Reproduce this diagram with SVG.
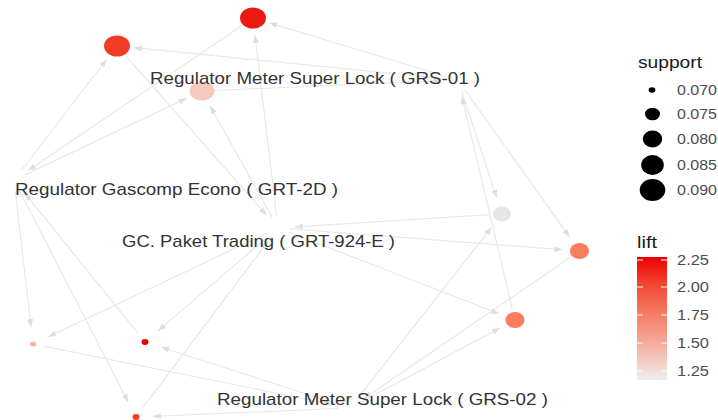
<svg xmlns="http://www.w3.org/2000/svg" width="718" height="420" viewBox="0 0 718 420">
<style>
.e{stroke:#e8e8e8;stroke-width:1.2;fill:none;marker-end:url(#ah)}
.lbl{font-family:"Liberation Sans",Arial,sans-serif;font-size:17px;fill:#333333}
.lt{font-family:"Liberation Sans",Arial,sans-serif;font-size:16px;fill:#1a1a1a}
.ll{font-family:"Liberation Sans",Arial,sans-serif;font-size:14px;fill:#4d4d4d}
.tick{stroke:#ffffff;stroke-width:1}
</style>
<defs>
<marker id="ah" markerUnits="userSpaceOnUse" markerWidth="9" markerHeight="7" refX="8" refY="3" orient="auto">
<path d="M0,0 L8,3 L0,6 z" fill="#dedede"/>
</marker>
<linearGradient id="liftg" x1="0" y1="0" x2="0" y2="1">
<stop offset="0" stop-color="#ee0000"/>
<stop offset="0.25" stop-color="#f24f37"/>
<stop offset="0.5" stop-color="#f6846d"/>
<stop offset="0.75" stop-color="#f4b6a9"/>
<stop offset="1" stop-color="#eeeeee"/>
</linearGradient>
</defs>
<rect width="718" height="420" fill="#ffffff"/>
<g id="edges">
<line class="e" x1="446.5" y1="76.5" x2="269.3" y2="22.9"/>
<line class="e" x1="276.6" y1="216.1" x2="255.0" y2="34.9"/>
<line class="e" x1="243.1" y1="24.7" x2="28.1" y2="170.5"/>
<line class="e" x1="446.1" y1="78.8" x2="133.9" y2="47.7"/>
<line class="e" x1="21.3" y1="170.5" x2="106.6" y2="59.5"/>
<line class="e" x1="125.0" y1="55.0" x2="266.7" y2="215.3"/>
<line class="e" x1="24.8" y1="174.9" x2="186.6" y2="98.3"/>
<line class="e" x1="272.2" y1="217.5" x2="210.2" y2="105.9"/>
<line class="e" x1="214.0" y1="90.5" x2="441.0" y2="80.7"/>
<line class="e" x1="461.7" y1="91.4" x2="496.7" y2="197.8"/>
<line class="e" x1="357.4" y1="398.6" x2="491.5" y2="227.4"/>
<line class="e" x1="490.0" y1="214.7" x2="295.0" y2="226.9"/>
<line class="e" x1="464.9" y1="89.8" x2="569.7" y2="237.1"/>
<line class="e" x1="290.0" y1="228.9" x2="562.5" y2="249.7"/>
<line class="e" x1="569.6" y1="257.8" x2="364.0" y2="398.4"/>
<line class="e" x1="289.2" y1="232.3" x2="499.2" y2="313.8"/>
<line class="e" x1="360.6" y1="402.4" x2="500.0" y2="328.0"/>
<line class="e" x1="512.2" y1="308.3" x2="461.9" y2="96.5"/>
<line class="e" x1="15.4" y1="191.9" x2="31.0" y2="327.1"/>
<line class="e" x1="267.2" y1="233.1" x2="48.4" y2="336.7"/>
<line class="e" x1="44.8" y1="346.4" x2="333.3" y2="404.6"/>
<line class="e" x1="268.9" y1="235.8" x2="157.9" y2="330.9"/>
<line class="e" x1="338.6" y1="404.3" x2="161.2" y2="347.2"/>
<line class="e" x1="137.5" y1="332.7" x2="24.7" y2="193.2"/>
<line class="e" x1="19.5" y1="190.7" x2="128.2" y2="401.9"/>
<line class="e" x1="338.0" y1="408.5" x2="153.0" y2="416.3"/>
<line class="e" x1="143.2" y1="407.4" x2="267.8" y2="241.6"/>
</g>
<g id="rule-a"><ellipse cx="253" cy="18" rx="13" ry="10.5" fill="#ea1a10"/></g>
<g id="rule-b"><ellipse cx="117" cy="46" rx="13" ry="10.5" fill="#ef3d26"/></g>
<g id="rule-c"><ellipse cx="202" cy="91" rx="12.5" ry="9.5" fill="#f8c8bc"/></g>
<g id="rule-d"><ellipse cx="502" cy="214" rx="9" ry="7.5" fill="#e6e6e6"/></g>
<g id="rule-e"><ellipse cx="579.5" cy="251" rx="9.5" ry="8" fill="#fa7d60"/></g>
<g id="rule-f"><ellipse cx="515" cy="320" rx="9.5" ry="8" fill="#fa7d60"/></g>
<g id="rule-g"><ellipse cx="33" cy="344" rx="3" ry="2.6" fill="#fbb3a5"/></g>
<g id="rule-h"><ellipse cx="145" cy="342" rx="3.5" ry="3" fill="#ee0000"/></g>
<g id="rule-i"><ellipse cx="136" cy="417" rx="3.5" ry="3" fill="#f23b22"/></g>
<g id="item-grs01"><text class="lbl" x="150" y="84" textLength="330" lengthAdjust="spacingAndGlyphs">Regulator Meter Super Lock ( GRS-01 )</text></g>
<g id="item-grt2d"><text class="lbl" x="15" y="195" textLength="323" lengthAdjust="spacingAndGlyphs">Regulator Gascomp Econo ( GRT-2D )</text></g>
<g id="item-grt924e"><text class="lbl" x="122" y="247" textLength="273" lengthAdjust="spacingAndGlyphs">GC. Paket Trading ( GRT-924-E )</text></g>
<g id="item-grs02"><text class="lbl" x="217" y="405" textLength="331" lengthAdjust="spacingAndGlyphs">Regulator Meter Super Lock ( GRS-02 )</text></g>
<g id="legend-support">
<text class="lt" x="638" y="68" textLength="64" lengthAdjust="spacingAndGlyphs">support</text>
<ellipse cx="652" cy="90" rx="3.4" ry="2.7" fill="#000"/>
<ellipse cx="652.5" cy="114" rx="7.5" ry="6.3" fill="#000"/>
<ellipse cx="652.5" cy="139" rx="9.7" ry="8.5" fill="#000"/>
<ellipse cx="652.5" cy="165" rx="11.3" ry="10" fill="#000"/>
<ellipse cx="652.5" cy="190" rx="12.8" ry="11" fill="#000"/>
<text class="ll" x="677" y="95" textLength="40" lengthAdjust="spacingAndGlyphs">0.070</text>
<text class="ll" x="677" y="119" textLength="40" lengthAdjust="spacingAndGlyphs">0.075</text>
<text class="ll" x="677" y="144" textLength="40" lengthAdjust="spacingAndGlyphs">0.080</text>
<text class="ll" x="677" y="170" textLength="40" lengthAdjust="spacingAndGlyphs">0.085</text>
<text class="ll" x="677" y="195" textLength="40" lengthAdjust="spacingAndGlyphs">0.090</text>
</g>
<g id="legend-lift">
<text class="lt" x="637" y="248" textLength="20" lengthAdjust="spacingAndGlyphs">lift</text>
<rect x="637" y="257" width="30" height="123" fill="url(#liftg)"/>
<line class="tick" x1="637" y1="260" x2="643" y2="260"/><line class="tick" x1="661" y1="260" x2="667" y2="260"/>
<line class="tick" x1="637" y1="287" x2="643" y2="287"/><line class="tick" x1="661" y1="287" x2="667" y2="287"/>
<line class="tick" x1="637" y1="315" x2="643" y2="315"/><line class="tick" x1="661" y1="315" x2="667" y2="315"/>
<line class="tick" x1="637" y1="343" x2="643" y2="343"/><line class="tick" x1="661" y1="343" x2="667" y2="343"/>
<line class="tick" x1="637" y1="371" x2="643" y2="371"/><line class="tick" x1="661" y1="371" x2="667" y2="371"/>
<text class="ll" x="677" y="265" textLength="32" lengthAdjust="spacingAndGlyphs">2.25</text>
<text class="ll" x="677" y="292" textLength="32" lengthAdjust="spacingAndGlyphs">2.00</text>
<text class="ll" x="677" y="320" textLength="32" lengthAdjust="spacingAndGlyphs">1.75</text>
<text class="ll" x="677" y="348" textLength="32" lengthAdjust="spacingAndGlyphs">1.50</text>
<text class="ll" x="677" y="376" textLength="32" lengthAdjust="spacingAndGlyphs">1.25</text>
</g>
</svg>
